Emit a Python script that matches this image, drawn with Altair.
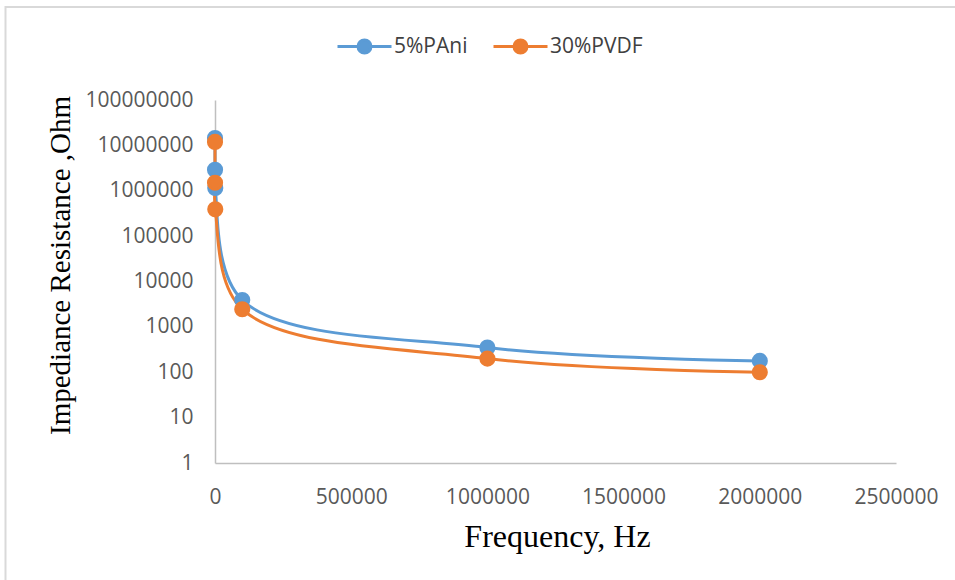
import altair as alt
import pandas as pd

# ---- data ----
freq = [10, 100, 1000, 100000, 1000000, 2000000]
pani = [14500000, 2900000, 1150000, 3900, 350, 178]
pvdf = [11900000, 1500000, 390000, 2450, 200, 100]
series_names = ["5%PAni", "30%PVDF"]
colors = ["#5B9BD5", "#ED7D31"]
y_ticks = [1, 10, 100, 1000, 10000, 100000, 1000000, 10000000, 100000000]
x_ticks = [0, 500000, 1000000, 1500000, 2000000, 2500000]

rows = []
for i, f in enumerate(freq):
    rows.append({"freq": f, "z": pani[i], "series": series_names[0], "order": i})
for i, f in enumerate(freq):
    rows.append({"freq": f, "z": pvdf[i], "series": series_names[1], "order": i})
df = pd.DataFrame(rows)

W, H = 681, 363
LEFT, TOP = 215, 100

cscale = alt.Scale(domain=series_names, range=colors)
sym_path = "M-3,0H3M0.72,0A0.72,0.72,0,1,1,-0.72,0A0.72,0.72,0,1,1,0.72,0Z"
leg = alt.Legend(
    title=None, orient="none", direction="horizontal",
    legendX=139, legendY=-64, padding=0,
    symbolType=sym_path, symbolSize=324, symbolStrokeWidth=3,
    labelFont="Open Sans", labelFontSize=21, labelColor="#404040",
    labelOffset=19, columnPadding=19, labelLimit=300,
)

xenc = alt.X(
    "freq:Q",
    scale=alt.Scale(domain=[0, 2500000], nice=False),
    axis=alt.Axis(
        values=x_ticks, format="d", ticks=False, grid=False,
        labelFlush=False, labelOverlap=False, labelBound=False,
        domainColor="#BFBFBF", domainWidth=1.5,
        labelFont="Open Sans", labelFontSize=21, labelColor="#595959",
        labelPadding=23, labelBaseline="top",
        title="Frequency, Hz", titleFont="Liberation Serif", titleFontSize=32,
        titleFontWeight="normal", titleColor="#000000",
        titleX=342, titleY=83, titleBaseline="alphabetic", titleAlign="center",
    ),
)
yenc = alt.Y(
    "z:Q",
    scale=alt.Scale(type="log", domain=[1, 100000000], nice=False),
    axis=alt.Axis(
        values=y_ticks, format="d", ticks=False, grid=False,
        labelFlush=False, labelOverlap=False, labelBound=False,
        domainColor="#BFBFBF", domainWidth=1.5,
        labelFont="Open Sans", labelFontSize=21, labelColor="#595959",
        labelPadding=22,
        title="Impediance Resistance ,Ohm", titleFont="Liberation Serif",
        titleFontSize=29, titleFontWeight="normal", titleColor="#000000",
        titleX=-146, titleY=165, titleBaseline="alphabetic", titleAngle=-90,
        titleAlign="center",
    ),
)

base = alt.Chart(df)

lines = base.mark_line(interpolate="catmull-rom", strokeWidth=3).encode(
    x=xenc, y=yenc,
    stroke=alt.Stroke("series:N", scale=cscale, legend=leg),
    order="order:Q",
    detail="series:N",
)
points = base.mark_point(filled=True, size=200, opacity=1).encode(
    x=xenc, y=yenc,
    fill=alt.Fill("series:N", scale=cscale, legend=leg),
    stroke=alt.Stroke("series:N", scale=cscale, legend=leg),
)

border = alt.Chart(pd.DataFrame({"a": [0]})).mark_rect(
    fill=None, stroke="#D9D9D9", strokeWidth=2
).encode(
    x=alt.value(5.5 - LEFT), y=alt.value(7 - TOP),
    x2=alt.value(1000), y2=alt.value(600),
)

chart = alt.layer(border, lines, points).properties(
    width=W, height=H,
    background="white",
    autosize=alt.AutoSizeParams(type="none"),
    padding={"left": LEFT, "top": TOP, "right": 955 - LEFT - W, "bottom": 580 - TOP - H},
).configure_view(stroke=None)

chart.save("out.html", embed_options={"renderer": "svg", "actions": False})
